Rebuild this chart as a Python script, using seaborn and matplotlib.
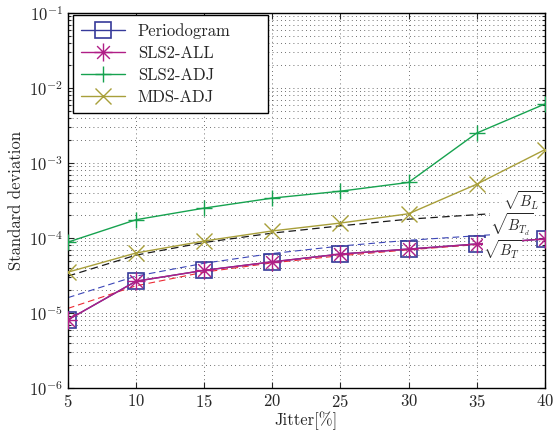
import numpy as np
import pandas as pd
import matplotlib
matplotlib.use('Agg')
import matplotlib.pyplot as plt
from matplotlib.path import Path
import seaborn as sns

# values
jitter = [5, 10, 15, 20, 25, 30, 35, 40]
periodogram = [8.1e-6, 2.65e-5, 3.7e-5, 4.8e-5, 6.1e-5, 7.1e-5, 8.3e-5, 9.7e-5]
sls2_all = [8.1e-6, 2.65e-5, 3.7e-5, 4.8e-5, 6.1e-5, 7.1e-5, 8.3e-5, 9.7e-5]
sls2_adj = [8.8e-5, 1.75e-4, 2.5e-4, 3.4e-4, 4.2e-4, 5.5e-4, 2.5e-3, 6.1e-3]
mds_adj = [3.5e-5, 6.3e-5, 9.1e-5, 1.24e-4, 1.58e-4, 2.1e-4, 5.2e-4, 1.5e-3]

# theoretical bounds (dashed)
bound_jitter = [5, 10, 15, 20, 25, 30, 36]
sqrt_BL = [3.1e-5, 5.9e-5, 8.7e-5, 1.16e-4, 1.45e-4, 1.78e-4, 2.1e-4]
sqrt_BTd = [1.6e-5, 3.1e-5, 4.6e-5, 6.2e-5, 7.8e-5, 9.3e-5, 1.1e-4]
sqrt_BT = [1.15e-5, 2.3e-5, 3.5e-5, 4.65e-5, 5.8e-5, 6.95e-5, 8.4e-5]

sns.set_style('ticks')
plt.rcParams['font.family'] = 'serif'
plt.rcParams['font.serif'] = ['cmr10', 'DejaVu Serif']
plt.rcParams['mathtext.fontset'] = 'cm'
plt.rcParams['axes.formatter.use_mathtext'] = True
plt.rcParams['xtick.direction'] = 'in'
plt.rcParams['ytick.direction'] = 'in'

# matlab-like asterisk marker: + and x combined
ang = np.deg2rad([0, 45, 90, 135])
verts, codes = [], []
for a in ang:
    verts += [(-np.cos(a), -np.sin(a)), (np.cos(a), np.sin(a))]
    codes += [Path.MOVETO, Path.LINETO]
asterisk = Path(verts, codes)

c_blue = '#363a9a'
c_mag = '#b01e86'
c_green = '#16a24f'
c_olive = '#a89f3a'

fig, ax = plt.subplots(figsize=(5.57, 4.32), dpi=100)
fig.subplots_adjust(left=0.122, right=0.978, bottom=0.102, top=0.970)

dash = (0, (6, 3.5))
sns.lineplot(x=bound_jitter, y=sqrt_BL, ax=ax, color='#1a1a1a', lw=0.9, linestyle=dash, zorder=2)
sns.lineplot(x=bound_jitter, y=sqrt_BTd, ax=ax, color='#3c46b8', lw=0.8, linestyle=dash, zorder=2)
sns.lineplot(x=bound_jitter, y=sqrt_BT, ax=ax, color='#ec2b35', lw=0.8, linestyle=dash, zorder=2)

sns.lineplot(x=jitter, y=periodogram, ax=ax, color=c_blue, lw=1.0, marker='s',
             markersize=12, markerfacecolor='none', markeredgecolor=c_blue,
             markeredgewidth=1.2, label='Periodogram', zorder=3)
sns.lineplot(x=jitter, y=sls2_all, ax=ax, color=c_mag, lw=1.0, marker=asterisk,
             markersize=13, markeredgecolor=c_mag, markeredgewidth=1.0,
             label='SLS2-ALL', zorder=4)
sns.lineplot(x=jitter, y=sls2_adj, ax=ax, color=c_green, lw=1.0, marker='+',
             markersize=12, markeredgecolor=c_green, markeredgewidth=1.0,
             label='SLS2-ADJ', zorder=3)
sns.lineplot(x=jitter, y=mds_adj, ax=ax, color=c_olive, lw=1.0, marker='x',
             markersize=12, markeredgecolor=c_olive, markeredgewidth=1.0,
             label='MDS-ADJ', zorder=3)

ax.set_yscale('log')
ax.set_xlim(5, 40)
ax.set_ylim(1e-6, 1e-1)
ax.set_xticks(jitter)
ax.set_xlabel('Jitter[%]', fontsize=12, labelpad=1)
ax.set_ylabel('Standard deviation', fontsize=12, labelpad=4)
ax.tick_params(which='both', top=True, right=True, labelsize=12, width=0.8)
ax.tick_params(which='major', length=4)
ax.tick_params(which='minor', length=2)
ax.grid(True, which='major', color='0.25', linestyle=(0, (1, 4)), lw=0.6)
ax.grid(True, which='minor', axis='y', color='0.25', linestyle=(0, (1, 4)), lw=0.6)
for s in ax.spines.values():
    s.set_linewidth(1.0)
    s.set_color('k')

bbox = dict(facecolor='white', edgecolor='none', pad=0.1)
ax.text(36.9, 3.15e-4, r'$\sqrt{B_L}$', fontsize=10.5, va='center', ha='left', bbox=bbox, zorder=5)
ax.text(36.0, 1.5e-4, r'$\sqrt{B_{T_d}}$', fontsize=10.5, va='center', ha='left', bbox=bbox, zorder=5)
ax.text(35.5, 7.0e-5, r'$\sqrt{B_T}$', fontsize=10.5, va='center', ha='left', bbox=bbox, zorder=5)

leg = ax.legend(loc='upper left', bbox_to_anchor=(0.0105, 0, 0.409, 0.995), mode='expand',
                borderaxespad=0, fontsize=12, fancybox=False, framealpha=1,
                edgecolor='k', handlelength=2.6, labelspacing=0.4, borderpad=0.5)
leg.get_frame().set_linewidth(1.0)

fig.savefig('out.png', dpi=100)
